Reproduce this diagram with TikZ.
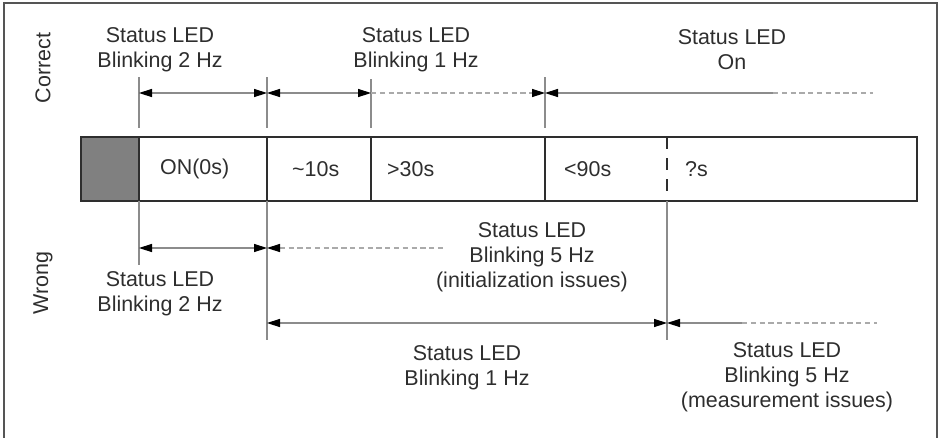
\documentclass[tikz,border=0pt]{standalone}
\usepackage{fontspec}
\setmainfont{Liberation Sans}
\usetikzlibrary{arrows.meta}
\definecolor{txtgray}{HTML}{2E2E2E}
\definecolor{linegray}{HTML}{8C8C8C}
\definecolor{dashgray}{HTML}{AAAAAA}
\definecolor{fillgray}{HTML}{808080}
\definecolor{framegray}{HTML}{555555}

\tikzset{
  ledtext/.style={align=center, text=txtgray, font=\fontsize{12.2}{14.3}\selectfont},
  bartext/.style={anchor=west, text=txtgray, font=\fontsize{12.2}{14.3}\selectfont},
  tick/.style={linegray, line width=0.6pt},
  dimline/.style={linegray, line width=0.6pt},
  dimdash/.style={dashgray, line width=0.6pt, dash pattern=on 3pt off 2pt},
}

\begin{document}
\begin{tikzpicture}[x=0.02cm, y=-0.02cm]
            \useasboundingbox (0,0) rectangle (940,437);
            \clip (0,0) rectangle (940,437);
            \draw [framegray, line width=0.8pt] (4,445) -- (4,3) -- (937,3) -- (937,445);% outer frame

            % time bar
            \coordinate (BarNW) at (81,137);
            \coordinate (BarSE) at (917,201);
            \fill [fillgray] (81,137) rectangle (139,201);
            \draw [txtgray, line width=1pt] (BarNW) rectangle (BarSE);
            \foreach \x in {139,267,371,545}
                \draw [txtgray, line width=1pt] (\x,137) -- (\x,201);
            \draw [txtgray, line width=1pt, dash pattern=on 7pt off 5pt] (667,137) -- (667,201);

            \node [bartext] (on)   at (154,169) {ON(0s)};
            \node [bartext] (ten)  at (286,169) {\textasciitilde10s};
            \node [bartext] (thirty) at (381,169) {>30s};
            \node [bartext] (ninety) at (558,169) {<90s};
            \node [bartext] (open) at (679,169) {?s};

            % ticks above the bar
            \coordinate (TA) at (139,93);
            \coordinate (TB) at (267,93);
            \coordinate (TC) at (371,93);
            \coordinate (TD) at (545,93);
            \coordinate (TE) at (773,93);
            \coordinate (TF) at (873,93);
            \draw [tick] (139,77) -- (139,128);
            \draw [tick] (267,77) -- (267,128);
            \draw [tick] (371,79) -- (371,128);
            \draw [tick] (545,77) -- (545,128);

            \draw [dimline, {Triangle[length=7.4pt,width=4.6pt,black]}-{Triangle[length=7.4pt,width=4.6pt,black]}] (TA) -- (TB);
            \draw [dimline, {Triangle[length=7.4pt,width=4.6pt,black]}-{Triangle[length=7.4pt,width=4.6pt,black]}] (TB) -- (TC);
            \draw [dimdash, -{Triangle[length=7.4pt,width=4.6pt,black]}] (TC) -- (TD);
            \draw [dimline, {Triangle[length=7.4pt,width=4.6pt,black]}-] (TD) -- (TE);
            \draw [dimdash] (TE) -- (TF);

            \node [ledtext] (okA) at (160,50) {Status LED\\Blinking 2 Hz};
            \node [ledtext] (okB) at (416,50) {Status LED\\Blinking 1 Hz};
            \node [ledtext] (okC) at (732,50) {Status LED\\On};

            % ticks below the bar
            \coordinate (BA) at (139,248);
            \coordinate (BB) at (267,248);
            \coordinate (BC) at (445,248);
            \coordinate (CA) at (267,323);
            \coordinate (CB) at (667,323);
            \coordinate (CC) at (742,323);
            \coordinate (CD) at (877,323);
            \draw [tick] (139,201) -- (139,265);
            \draw [tick] (267,201) -- (267,340);
            \draw [tick] (667,201) -- (667,340);

            \draw [dimline, {Triangle[length=7.4pt,width=4.6pt,black]}-{Triangle[length=7.4pt,width=4.6pt,black]}] (BA) -- (BB);
            \draw [dimdash, {Triangle[length=7.4pt,width=4.6pt,black]}-] (BB) -- (BC);
            \draw [dimline, {Triangle[length=7.4pt,width=4.6pt,black]}-{Triangle[length=7.4pt,width=4.6pt,black]}] (CA) -- (CB);
            \draw [dimline, {Triangle[length=7.4pt,width=4.6pt,black]}-] (CB) -- (CC);
            \draw [dimdash] (CC) -- (CD);

            \node [ledtext] (badA) at (160,294) {Status LED\\Blinking 2 Hz};
            \node [ledtext] (badB) at (532,257) {Status LED\\Blinking 5 Hz\\(initialization issues)};
            \node [ledtext] (badC) at (467,368) {Status LED\\Blinking 1 Hz};
            \node [ledtext] (badD) at (787,377) {Status LED\\Blinking 5 Hz\\(measurement issues)};

            % row titles
            \node [ledtext, rotate=90] (correct) at (43,68) {Correct};
            \node [ledtext, rotate=90] (wrong) at (43,283) {Wrong};
        \end{tikzpicture}
\end{document}
